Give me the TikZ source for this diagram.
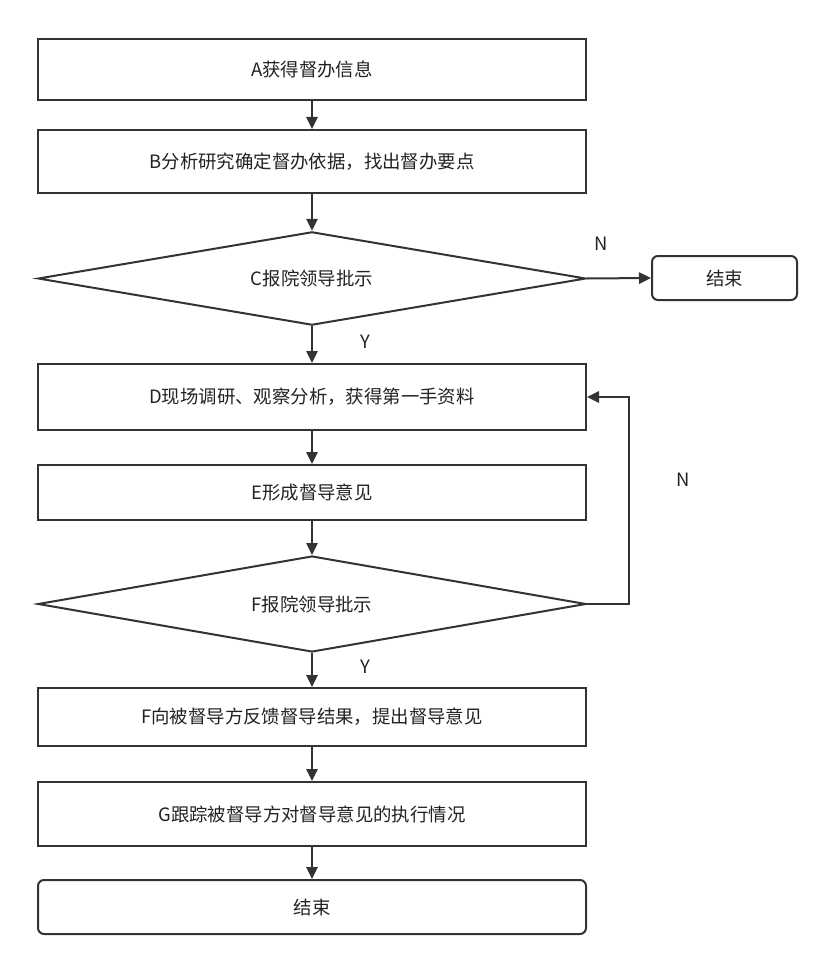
\documentclass[tikz,border=0pt]{standalone}
\usepackage{fontspec}
\setmainfont{Noto Sans CJK SC}
\usetikzlibrary{shapes.geometric,arrows.meta}
\definecolor{ln}{HTML}{333333}
\definecolor{tx}{HTML}{222222}
\begin{document}
\begin{tikzpicture}[x=0.75pt,y=-0.75pt,
  font=\fontsize{13.8pt}{16pt}\selectfont, text=tx,
  box/.style={draw=ln, line width=1.5pt, rectangle, minimum width=411pt, inner sep=0pt},
  rbox/.style={box, rounded corners=4.5pt},
  dia/.style={draw=ln, line width=1.5pt, diamond, aspect=5.9, minimum width=411pt, minimum height=70pt, inner sep=0pt},
  arr/.style={draw=ln, line width=1.5pt, -{Triangle[length=9pt,width=8.5pt]}},
  lbl/.style={text=tx}]
\useasboundingbox (0,0) rectangle (834,970);
\node[box, minimum height=45.75pt] (A) at (312,69.5) {A获得督办信息};
\node[box, minimum height=47.25pt] (B) at (312,161.5) {B分析研究确定督办依据，找出督办要点};
\node[dia] (C) at (312,278.5) {C报院领导批示};
\node[rbox, minimum width=108.75pt, minimum height=33pt] (E1) at (724.5,278) {结束};
\node[box, minimum height=49.5pt] (D) at (312,397) {D现场调研、观察分析，获得第一手资料};
\node[box, minimum height=41.25pt] (E) at (312,492.5) {E形成督导意见};
\node[dia, minimum height=72pt] (F) at (312,604) {F报院领导批示};
\node[box, minimum height=43.5pt] (F2) at (312,717) {F向被督导方反馈督导结果，提出督导意见};
\node[box, minimum height=48pt] (G) at (312,814) {G跟踪被督导方对督导意见的执行情况};
\node[rbox, minimum height=40.5pt] (E2) at (312,907) {结束};
\draw[arr] (A) -- (B);
\draw[arr] (B) -- (C);
\draw[arr] (C.east) -- (E1.west);
\draw[arr] (C) -- (D);
\draw[arr] (D) -- (E);
\draw[arr] (E) -- (F);
\draw[arr] (F) -- (F2);
\draw[arr] (F2) -- (G);
\draw[arr] (G) -- (E2);
\coordinate (L1) at (629,604);
\coordinate (L2) at (629,397);
\draw[arr] (F.east) -- (L1) -- (L2) -- (D.east);
\node[lbl] (n1) at (601,244) {N};
\node[lbl] (y1) at (365,342) {Y};
\node[lbl] (n2) at (683,480) {N};
\node[lbl] (y2) at (365,667) {Y};
\end{tikzpicture}
\end{document}
